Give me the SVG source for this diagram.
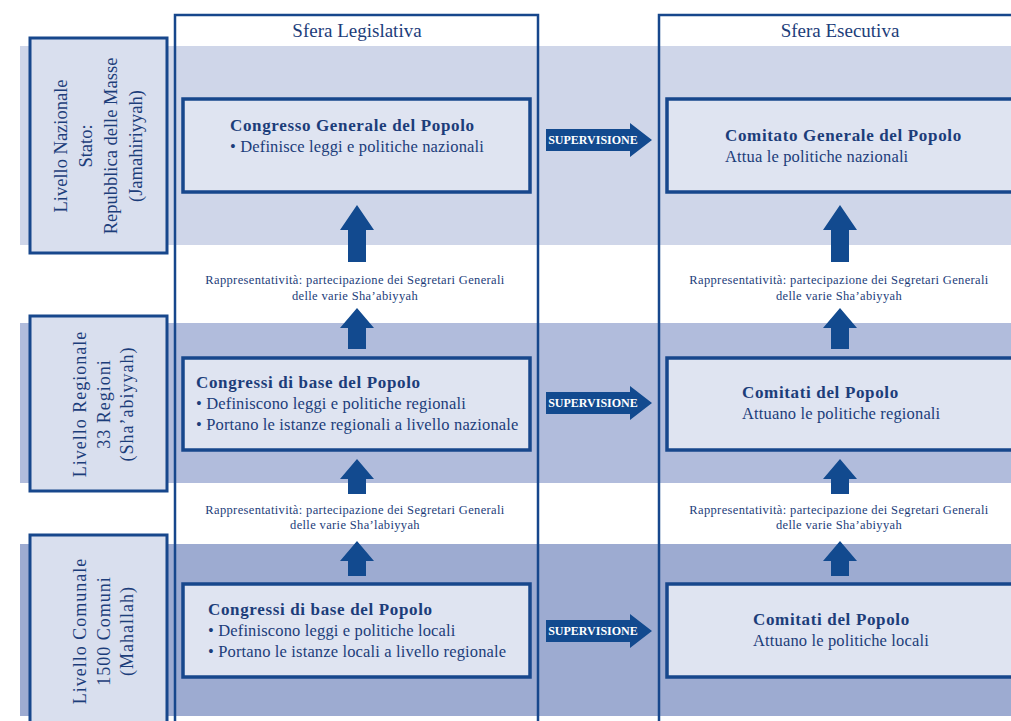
<svg xmlns="http://www.w3.org/2000/svg" width="1011" height="721" viewBox="0 0 1011 721">
  <style>
    .band1 { fill: #cfd6e9; }
    .band2 { fill: #b1bcdc; }
    .band3 { fill: #9dabd1; }
    .col { fill: none; stroke: #17478c; stroke-width: 2.5; }
    .lvl { fill: #d9dfee; stroke: #17478c; stroke-width: 3; }
    .box { fill: #dfe4f1; stroke: #17478c; stroke-width: 3.5; }
    .arrow { fill: #124a8f; }
    text { font-family: "Liberation Serif", "DejaVu Serif", serif; fill: #1c3d7a; }
    .title { font-size: 19px; text-anchor: middle; }
    .lvltxt { font-size: 18.5px; text-anchor: middle; }
    .spaced { font-size: 18px; letter-spacing: 1px; }
    .head { font-size: 17px; font-weight: bold; letter-spacing: 0.65px; }
    .body { font-size: 16.5px; letter-spacing: 0.15px; }
    .rep { font-size: 12.5px; letter-spacing: 0.35px; text-anchor: middle; }
    .sup { font-size: 12px; font-weight: bold; fill: #ffffff; text-anchor: middle; }
  </style>
  <defs>
    <!-- block arrow pointing up, tip at origin -->
    <path id="up-a" d="M0,0 L17,25 L9,25 L9,57 L-9,57 L-9,25 L-17,25 Z"/>
    <path id="up-b" d="M0,0 L17,20 L9,20 L9,41 L-9,41 L-9,20 L-17,20 Z"/>
    <path id="up-c" d="M0,0 L17,20 L9,20 L9,35 L-9,35 L-9,20 L-17,20 Z"/>
    <!-- horizontal supervision arrow, centred vertically on origin -->
    <path id="right" d="M546,-11 L630,-11 L630,-17 L652,0 L630,17 L630,11 L546,11 Z"/>
  </defs>

  <rect width="1011" height="721" fill="#ffffff"/>

  <!-- level bands -->
  <g id="bands">
    <rect class="band1" x="20" y="46" width="991" height="199"/>
    <rect class="band2" x="20" y="323" width="991" height="160"/>
    <rect class="band3" x="20" y="544" width="991" height="172"/>
  </g>

  <!-- spheres -->
  <g id="sfera-legislativa">
    <rect class="col" x="175" y="15" width="363" height="720"/>
    <text class="title" x="357" y="37">Sfera Legislativa</text>
  </g>
  <g id="sfera-esecutiva">
    <rect class="col" x="659" y="15" width="370" height="720"/>
    <text class="title" x="840" y="37">Sfera Esecutiva</text>
  </g>

  <!-- level labels -->
  <g id="livello-nazionale">
    <rect class="lvl" x="30" y="38" width="137" height="215"/>
    <text class="lvltxt" transform="translate(67,146) rotate(-90)">Livello Nazionale</text>
    <text class="lvltxt" transform="translate(92,146) rotate(-90)">Stato:</text>
    <text class="lvltxt" transform="translate(117,146) rotate(-90)">Repubblica delle Masse</text>
    <text class="lvltxt" transform="translate(142,146) rotate(-90)">(Jamahiriyyah)</text>
  </g>
  <g id="livello-regionale">
    <rect class="lvl" x="30" y="316" width="137" height="175"/>
    <text class="lvltxt spaced" transform="translate(86,404) rotate(-90)">Livello Regionale</text>
    <text class="lvltxt spaced" transform="translate(110,404) rotate(-90)">33 Regioni</text>
    <text class="lvltxt spaced" transform="translate(133,404) rotate(-90)">(Sha’abiyyah)</text>
  </g>
  <g id="livello-comunale">
    <rect class="lvl" x="30" y="535" width="137" height="200"/>
    <text class="lvltxt spaced" transform="translate(86,631) rotate(-90)">Livello Comunale</text>
    <text class="lvltxt spaced" transform="translate(110,631) rotate(-90)">1500 Comuni</text>
    <text class="lvltxt spaced" transform="translate(133,631) rotate(-90)">(Mahallah)</text>
  </g>

  <!-- legislative nodes -->
  <g id="congresso-generale">
    <rect class="box" x="183" y="99" width="347" height="93"/>
    <text class="head" x="230" y="131">Congresso Generale del Popolo</text>
    <text class="body" x="230" y="152">• Definisce leggi e politiche nazionali</text>
  </g>
  <g id="congressi-regionali">
    <rect class="box" x="183" y="358" width="347" height="92"/>
    <text class="head" x="196" y="388">Congressi di base del Popolo</text>
    <text class="body" x="196" y="409">• Definiscono leggi e politiche regionali</text>
    <text class="body" x="196" y="430">• Portano le istanze regionali a livello nazionale</text>
  </g>
  <g id="congressi-locali">
    <rect class="box" x="183" y="584" width="347" height="93"/>
    <text class="head" x="208" y="615">Congressi di base del Popolo</text>
    <text class="body" x="208" y="636">• Definiscono leggi e politiche locali</text>
    <text class="body" x="208" y="657">• Portano le istanze locali a livello regionale</text>
  </g>

  <!-- executive nodes -->
  <g id="comitato-generale">
    <rect class="box" x="667" y="99" width="360" height="93"/>
    <text class="head" x="725" y="141">Comitato Generale del Popolo</text>
    <text class="body" x="725" y="162">Attua le politiche nazionali</text>
  </g>
  <g id="comitati-regionali">
    <rect class="box" x="667" y="358" width="360" height="92"/>
    <text class="head" x="742" y="398">Comitati del Popolo</text>
    <text class="body" x="742" y="419">Attuano le politiche regionali</text>
  </g>
  <g id="comitati-locali">
    <rect class="box" x="667" y="584" width="360" height="93"/>
    <text class="head" x="753" y="625">Comitati del Popolo</text>
    <text class="body" x="753" y="646">Attuano le politiche locali</text>
  </g>

  <!-- connectors -->
  <g id="connectors">
    <use href="#up-a" class="arrow" x="357" y="205"/>
    <use href="#up-b" class="arrow" x="357" y="308"/>
    <use href="#up-c" class="arrow" x="357" y="459"/>
    <use href="#up-c" class="arrow" x="357" y="541"/>
    <use href="#up-a" class="arrow" x="840" y="205"/>
    <use href="#up-b" class="arrow" x="840" y="308"/>
    <use href="#up-c" class="arrow" x="840" y="459"/>
    <use href="#up-c" class="arrow" x="840" y="541"/>

    <use href="#right" class="arrow" x="0" y="140"/>
    <text class="sup" x="593" y="144">SUPERVISIONE</text>
    <use href="#right" class="arrow" x="0" y="403"/>
    <text class="sup" x="593" y="407">SUPERVISIONE</text>
    <use href="#right" class="arrow" x="0" y="631"/>
    <text class="sup" x="593" y="635">SUPERVISIONE</text>

    <text class="rep" x="355" y="284">Rappresentatività: partecipazione dei Segretari Generali</text>
    <text class="rep" x="355" y="300">delle varie Sha’abiyyah</text>
    <text class="rep" x="839" y="284">Rappresentatività: partecipazione dei Segretari Generali</text>
    <text class="rep" x="839" y="300">delle varie Sha’abiyyah</text>
    <text class="rep" x="355" y="514">Rappresentatività: partecipazione dei Segretari Generali</text>
    <text class="rep" x="355" y="529">delle varie Sha’labiyyah</text>
    <text class="rep" x="839" y="514">Rappresentatività: partecipazione dei Segretari Generali</text>
    <text class="rep" x="839" y="529">delle varie Sha’abiyyah</text>
  </g>
</svg>
